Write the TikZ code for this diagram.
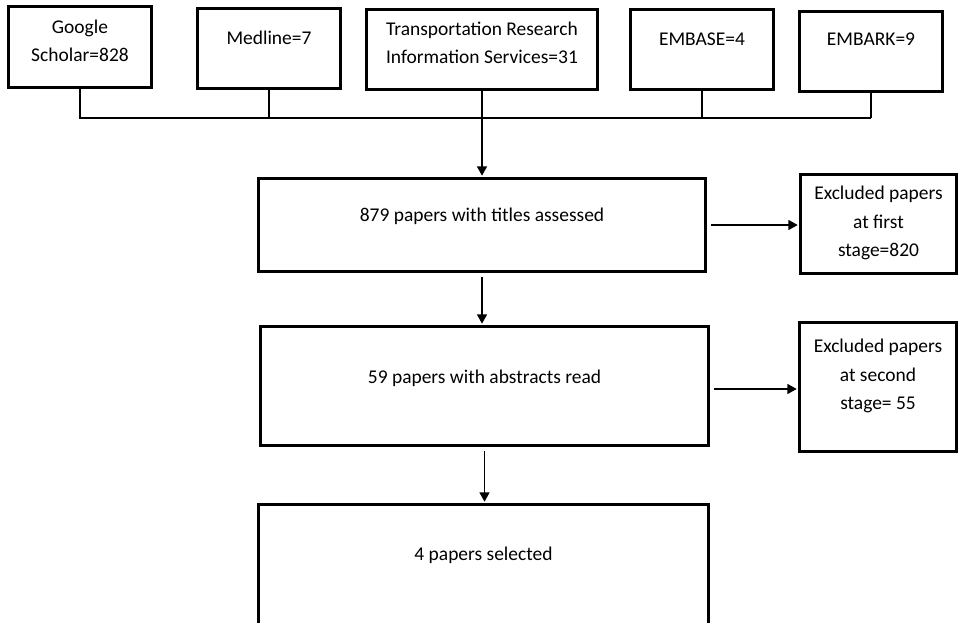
\documentclass[tikz,border=0pt]{standalone}
\usepackage{fontspec}
\setmainfont{Carlito}
\usetikzlibrary{arrows.meta}
\newcommand{\pxu}{0.75pt}
\tikzset{
  stagebox/.style={rectangle,draw=black,line width=2.2pt,inner sep=0pt,align=center,
    font=\fontsize{14.6}{21.4}\selectfont},
  boxsize/.style n args={3}{minimum width=#1*\pxu,text height=#2*\pxu,text depth=#3*\pxu},
  joinline/.style={line width=1.1pt},
  flowarrow/.style={-{Triangle[length=7pt,width=7.5pt]},line width=1.1pt,shorten >=1pt}
}
\begin{document}
\begin{tikzpicture}[x=\pxu,y=-\pxu]
\useasboundingbox (0,0) rectangle (960,623);
\clip (0,0) rectangle (960,623);
% databases searched
\node (gs) [stagebox,boxsize={143}{55.2}{25.8}] at (80,47) {Google\\Scholar=828};
\node (medline) [stagebox,boxsize={143}{35.8}{44.2}] at (269,48.5) {Medline=7};
\node (tris) [stagebox,boxsize={231}{54.5}{25.5}] at (482,49.5) {Transportation Research\\Information Services=31};
\node (embase) [stagebox,boxsize={143}{36.5}{43.5}] at (702,49.5) {EMBASE=4};
\node (embark) [stagebox,boxsize={143}{34.5}{45.5}] at (871,51.5) {EMBARK=9};
\coordinate (bus) at (0,118);
%
% screening stages
\node (titles) [stagebox,boxsize={447}{43.5}{49.5}] at (482,225) {879 papers with titles assessed};
\node (excl1) [stagebox,boxsize={156}{82.5}{16.5}] at (878.5,224) {Excluded papers\\at first\\stage=820};
\node (abstracts) [stagebox,boxsize={448}{56.5}{62.5}] at (484.5,386) {59 papers with abstracts read};
\node (excl2) [stagebox,boxsize={157}{87.5}{41.5}] at (878,387) {Excluded papers\\at second\\stage= 55};
\node (selected) [stagebox,boxsize={450}{55.5}{104.5}] at (483.5,584.5) {4 papers selected};
%
\draw[joinline] (gs.south) -- (gs.south |- bus) -- (embark.south |- bus);
\draw[joinline] (embark.south) -- (embark.south |- bus);
\draw[joinline] (medline.south) -- (medline.south |- bus);
\draw[joinline] (embase.south) -- (embase.south |- bus);
\draw[flowarrow] (tris.south) -- (tris.south |- titles.north);
%
\draw[flowarrow,shorten <=3pt] (titles.south) -- (titles.south |- abstracts.north);
\draw[flowarrow,shorten <=3pt] (abstracts.south) -- (abstracts.south |- selected.north);
\draw[flowarrow,shorten <=3pt] (titles.east) -- (titles.east -| excl1.west);
\draw[flowarrow,shorten <=3pt] ([yshift=-3*\pxu]abstracts.east) -- ([yshift=-3*\pxu]abstracts.east -| excl2.west);
\end{tikzpicture}
\end{document}
